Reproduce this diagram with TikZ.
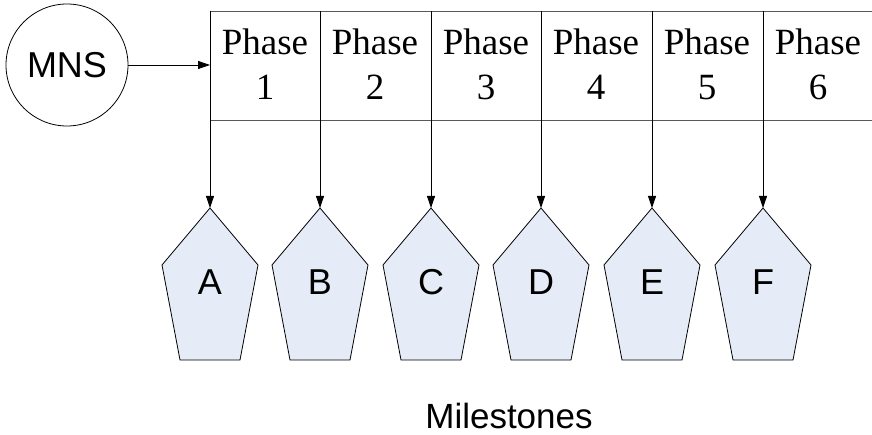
\documentclass[tikz,border=0pt]{standalone}
\usepackage{fontspec}
\setmainfont{Liberation Serif}
\newfontfamily\sansf{Liberation Sans}
\usetikzlibrary{arrows.meta}
\definecolor{msfill}{RGB}{230,236,247}
\begin{document}
\begin{tikzpicture}[x=1pt,y=-1pt,
  conn/.style={-{Triangle[length=12pt,width=8pt]}, line width=0.8pt, draw=black},
  rule/.style={line width=0.8pt, draw=black!65},
  sep/.style={line width=0.8pt, draw=black},
  ms/.style={draw=black, line width=0.8pt, fill=msfill, line join=miter},
  phase/.style={font=\fontsize{37}{40}\selectfont, anchor=base, inner sep=0pt},
  lbl/.style={font=\sansf\fontsize{36}{40}\selectfont, inner sep=0pt},
]
\useasboundingbox (0,0) rectangle (872,435);
\node[draw, circle, minimum size=122pt, inner sep=0pt, line width=0.8pt, font=\sansf\fontsize{36}{40}\selectfont] (mns) at (67,65) {MNS};
\coordinate (tin) at (210,65);
\draw[rule] (210,11) -- (872,11);
\draw[rule] (210,120) -- (872,120);
\foreach \x/\l/\n in {210/A/1, 320/B/2, 431/C/3, 541/D/4, 652/E/5, 763/F/6}{
  \draw[sep] (\x,11) -- (\x,120);
  \path[ms] (\x,208) -- (\x+48,265) -- (\x+30,360) -- (\x-30,360) -- (\x-48,265) -- cycle;
  \node[lbl] (m\l) at (\x,282) {\l};
  \coordinate (t\l) at (\x,208);
  \coordinate (s\l) at (\x,120);
  \draw[conn] (s\l) -- (t\l);
  \node[phase] (ph\n) at (\x+55,55) {Phase};
  \node[phase] (pn\n) at (\x+55,100) {\n};
}
\draw[conn] (mns) -- (tin);
\node[font=\sansf\fontsize{35}{40}\selectfont, inner sep=0pt, anchor=base] (mil) at (509,428) {Milestones};
\end{tikzpicture}
\end{document}
